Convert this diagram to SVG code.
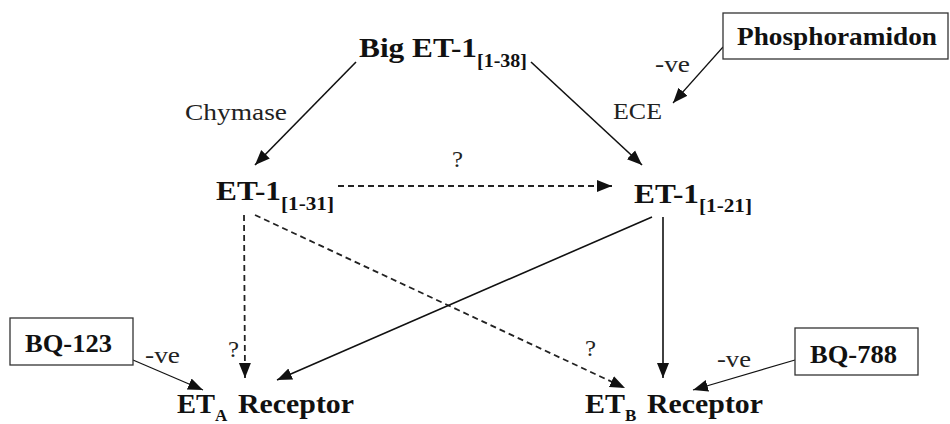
<svg xmlns="http://www.w3.org/2000/svg" width="950" height="424" viewBox="0 0 950 424">
<style>
.b{font-family:"Liberation Serif","Times New Roman",serif;font-weight:bold;fill:#111}
.n{font-family:"Liberation Serif","Times New Roman",serif;fill:#222}
.ln{stroke:#111;stroke-width:1.6;fill:none}
.th{stroke:#111;stroke-width:1.2;fill:none}
.ds{stroke:#222;stroke-width:1.8;fill:none;stroke-dasharray:6 4}
.box{fill:#fff;stroke:#333;stroke-width:1.3}
</style>
<defs>
<marker id="ah" markerUnits="userSpaceOnUse" markerWidth="16" markerHeight="14" viewBox="0 0 16 14" refX="15" refY="7" orient="auto">
<path d="M0,1 L15,7 L0,13 Z" fill="#111"/>
</marker>
</defs>
<g id="connectors">
<line class="ln" x1="356" y1="62" x2="255" y2="165" marker-end="url(#ah)"/>
<line class="ln" x1="531" y1="62" x2="642" y2="165" marker-end="url(#ah)"/>
<line class="th" x1="723" y1="47" x2="673" y2="103" marker-end="url(#ah)"/>
<line class="ds" x1="338" y1="186" x2="612" y2="186" marker-end="url(#ah)"/>
<line class="ds" x1="244" y1="215" x2="245" y2="378" marker-end="url(#ah)"/>
<line class="ds" x1="255" y1="215" x2="625" y2="388" marker-end="url(#ah)"/>
<line class="ln" x1="652" y1="217" x2="277" y2="380" marker-end="url(#ah)"/>
<line class="ln" x1="663" y1="217" x2="663" y2="378" marker-end="url(#ah)"/>
<line class="th" x1="133" y1="360" x2="203" y2="390" marker-end="url(#ah)"/>
<line class="th" x1="795" y1="360" x2="693" y2="390" marker-end="url(#ah)"/>
</g>
<g id="labels">
<text class="n" x="185" y="120" font-size="23" textLength="102" lengthAdjust="spacingAndGlyphs">Chymase</text>
<text class="n" x="613" y="119" font-size="23" textLength="49" lengthAdjust="spacingAndGlyphs">ECE</text>
<text class="n" x="655" y="72" font-size="23" textLength="35" lengthAdjust="spacingAndGlyphs">-ve</text>
<text class="n" x="452" y="167" font-size="23" textLength="11" lengthAdjust="spacingAndGlyphs">?</text>
<text class="n" x="228" y="357" font-size="23" textLength="11" lengthAdjust="spacingAndGlyphs">?</text>
<text class="n" x="585" y="356" font-size="23" textLength="11" lengthAdjust="spacingAndGlyphs">?</text>
<text class="n" x="145" y="363" font-size="23" textLength="35" lengthAdjust="spacingAndGlyphs">-ve</text>
<text class="n" x="717" y="367" font-size="23" textLength="34" lengthAdjust="spacingAndGlyphs">-ve</text>
</g>
<g id="big-et1">
<text class="b" x="359" y="57" font-size="28" textLength="118" lengthAdjust="spacingAndGlyphs">Big ET-1</text>
<text class="b" x="477" y="67" font-size="19" textLength="50" lengthAdjust="spacingAndGlyphs">[1-38]</text>
</g>
<g id="phosphoramidon">
<rect class="box" x="723" y="13" width="225" height="46"/>
<text class="b" x="737" y="45" font-size="26" textLength="200" lengthAdjust="spacingAndGlyphs">Phosphoramidon</text>
</g>
<g id="et1-31">
<text class="b" x="216" y="200" font-size="28" textLength="65" lengthAdjust="spacingAndGlyphs">ET-1</text>
<text class="b" x="281" y="210" font-size="19" textLength="53" lengthAdjust="spacingAndGlyphs">[1-31]</text>
</g>
<g id="et1-21">
<text class="b" x="634" y="203" font-size="28" textLength="65" lengthAdjust="spacingAndGlyphs">ET-1</text>
<text class="b" x="699" y="212" font-size="19" textLength="53" lengthAdjust="spacingAndGlyphs">[1-21]</text>
</g>
<g id="bq123">
<rect class="box" x="10" y="318" width="123" height="47"/>
<text class="b" x="25" y="352" font-size="26" textLength="87" lengthAdjust="spacingAndGlyphs">BQ-123</text>
</g>
<g id="bq788">
<rect class="box" x="795" y="328" width="123" height="47"/>
<text class="b" x="810" y="363" font-size="26" textLength="87" lengthAdjust="spacingAndGlyphs">BQ-788</text>
</g>
<g id="eta-receptor">
<text class="b" x="177" y="413" font-size="28" textLength="38" lengthAdjust="spacingAndGlyphs">ET</text>
<text class="b" x="215" y="421" font-size="17">A</text>
<text class="b" x="238" y="413" font-size="28" textLength="116" lengthAdjust="spacingAndGlyphs">Receptor</text>
</g>
<g id="etb-receptor">
<text class="b" x="585" y="413" font-size="28" textLength="40" lengthAdjust="spacingAndGlyphs">ET</text>
<text class="b" x="625" y="421" font-size="17">B</text>
<text class="b" x="647" y="413" font-size="28" textLength="116" lengthAdjust="spacingAndGlyphs">Receptor</text>
</g>
</svg>
